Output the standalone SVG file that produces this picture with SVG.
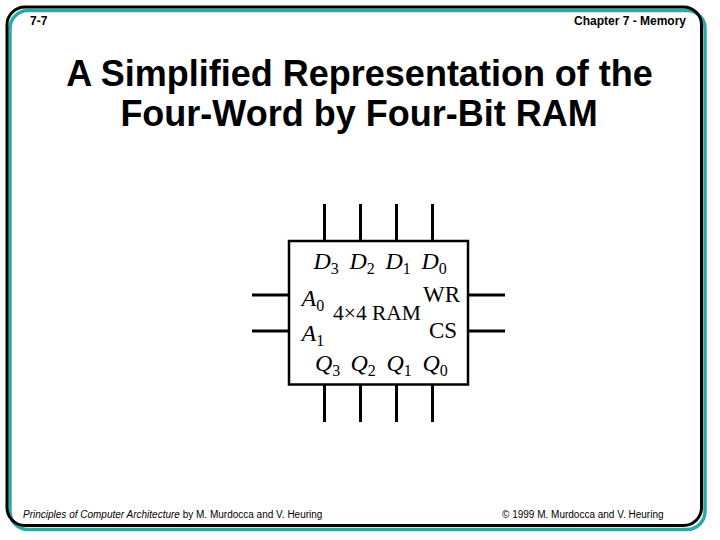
<svg xmlns="http://www.w3.org/2000/svg" width="720" height="540" viewBox="0 0 720 540">
<style>
.s{font-family:"Liberation Sans",Arial,sans-serif;fill:#000}
.h{font-size:12px;font-weight:700}
.t{font-size:36px;font-weight:700;text-anchor:middle}
.f{font-size:10px}
.r{font-family:"Liberation Serif","Times New Roman",serif;fill:#000;font-size:24px}
.i{font-style:italic}
.u{font-size:16px}
.m{font-size:21.500px}
.v{font-size:23px}
.w{fill:none;stroke:#000;stroke-width:3}
</style>
<rect width="720" height="540" fill="#fff"/>
<g id="frame">
<rect x="10" y="10.500" width="695" height="519" rx="18" fill="none" stroke="#2baaa5" stroke-width="3.500"/>
<rect x="7" y="7" width="694.500" height="518.500" rx="18" fill="none" stroke="#000" stroke-width="3"/>
</g>
<g id="header">
<text class="s h" x="30" y="25">7-7</text>
<text class="s h" x="686" y="25" text-anchor="end">Chapter 7 - Memory</text>
</g>
<g id="title">
<text class="s t" x="359.500" y="86">A Simplified Representation of the</text>
<text class="s t" x="359" y="125.500">Four-Word by Four-Bit RAM</text>
</g>
<g id="connectors">
<path class="w" d="M324.500 204V241M360.500 204V241M396.500 204V241M432.500 204V241M324.500 385V422M360.500 385V422M396.500 385V422M432.500 385V422M252 295H289M252 331H289M468 295H505M468 331H505"/>
</g>
<g id="ram">
<rect x="289" y="241" width="179" height="143.500" fill="#fff" stroke="#000" stroke-width="2.500"/>
<text class="r" x="313.500" y="269"><tspan class="i">D</tspan><tspan class="u" dy="5">3</tspan></text>
<text class="r" x="349.500" y="269"><tspan class="i">D</tspan><tspan class="u" dy="5">2</tspan></text>
<text class="r" x="385.500" y="269"><tspan class="i">D</tspan><tspan class="u" dy="5">1</tspan></text>
<text class="r" x="421.500" y="269"><tspan class="i">D</tspan><tspan class="u" dy="5">0</tspan></text>
<text class="r" x="301.500" y="305.500"><tspan class="i">A</tspan><tspan class="u" dy="5">0</tspan></text>
<text class="r" x="301.500" y="341"><tspan class="i">A</tspan><tspan class="u" dy="5">1</tspan></text>
<text class="r" x="315" y="371"><tspan class="i">Q</tspan><tspan class="u" dy="5">3</tspan></text>
<text class="r" x="350.500" y="371"><tspan class="i">Q</tspan><tspan class="u" dy="5">2</tspan></text>
<text class="r" x="386.500" y="371"><tspan class="i">Q</tspan><tspan class="u" dy="5">1</tspan></text>
<text class="r" x="422.500" y="371"><tspan class="i">Q</tspan><tspan class="u" dy="5">0</tspan></text>
<text class="r m" x="333" y="320">4×4 RAM</text>
<text class="r v" x="423" y="302">WR</text>
<text class="r v" x="429" y="338">CS</text>
</g>
<g id="footer">
<text class="s f" x="23" y="518"><tspan class="i">Principles of Computer Architecture</tspan> by M. Murdocca and V. Heuring</text>
<text class="s f" x="502" y="518">© 1999 M. Murdocca and V. Heuring</text>
</g>
</svg>
